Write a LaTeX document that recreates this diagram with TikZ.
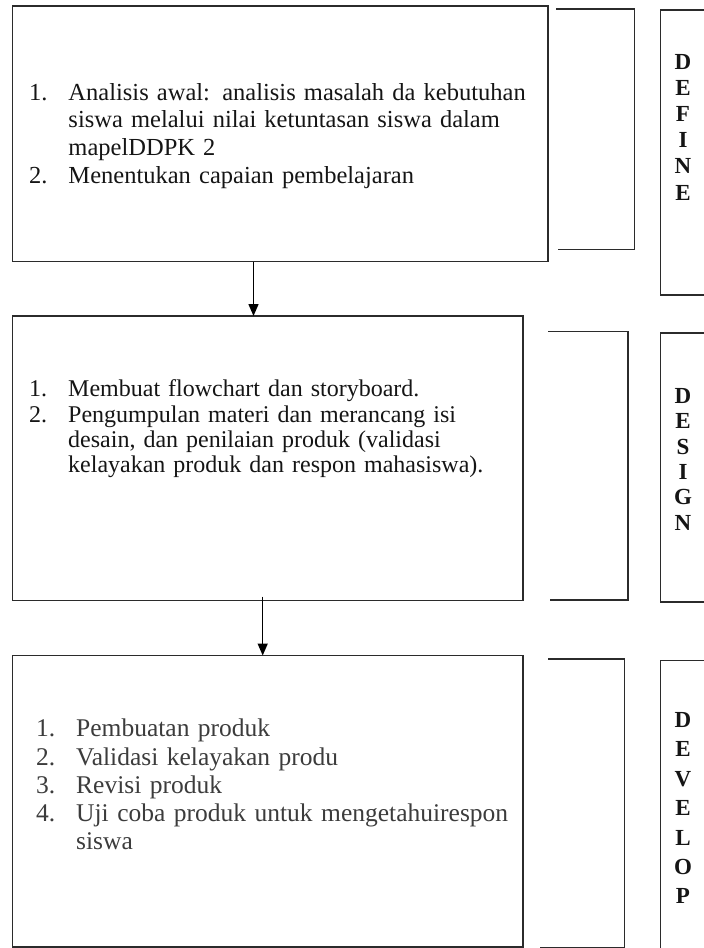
\documentclass[tikz,border=0pt]{standalone}
\usepackage{fontspec}
\setmainfont{Liberation Serif}
\usetikzlibrary{arrows.meta}
\definecolor{linec}{HTML}{2B2B2B}
\definecolor{txtc}{HTML}{151515}
\definecolor{txtgray}{HTML}{3C3C3C}
\tikzset{
  stagebox/.style={draw=linec, line width=1.5pt, rectangle, inner sep=0pt, outer sep=0pt, anchor=north west},
  bracketline/.style={draw=linec, line width=1.5pt},
  flowarrow/.style={draw=black, line width=1.5pt, -{Triangle[width=10pt,length=12pt]}},
  itemtext/.style={anchor=base west, inner sep=0pt, text width=520pt, align=left, text=txtc},
  stagelabel/.style={anchor=base, inner sep=0pt, text width=24pt, align=center, text=txtc}
}
\begin{document}
\begin{tikzpicture}[x=1pt,y=-1pt]
\useasboundingbox (0,0) rectangle (704,948);
\clip (0,0) rectangle (704,948);

% main boxes
\node[stagebox, minimum width=535.5pt, minimum height=255.5pt] (b1) at (12.5,6) {};
\node[stagebox, minimum width=510.5pt, minimum height=284.5pt] (b2) at (12.5,316) {};
\node[stagebox, minimum width=510.5pt, minimum height=291.5pt] (b3) at (12.5,655.5) {};

% side boxes (cut by the right edge)
\node[stagebox, minimum width=80pt, minimum height=285pt] (s1) at (660.7,10) {};
\node[stagebox, minimum width=80pt, minimum height=269pt] (s2) at (660.7,333) {};
\node[stagebox, minimum width=80pt, minimum height=320pt] (s3) at (660.7,660.7) {};

% brackets
\draw[bracketline] (556,9) -- (634.5,9) -- (634.5,249.3) -- (557.7,249.3);
\draw[bracketline] (548,331.7) -- (628,331.7) -- (628,600) -- (550,600);
\draw[bracketline] (548,659) -- (624.5,659) -- (624.5,947.5) -- (540,947.5);

% arrows
\coordinate (ax1) at (253.5,0);
\coordinate (ax2) at (262.7,0);
\draw[flowarrow] (b1.south -| ax1) -- (b2.north -| ax1);
\draw[flowarrow] ([yshift=4pt]b2.south -| ax2) -- (b3.north -| ax2);

% texts
\node[itemtext, font=\fontsize{24.5pt}{27.8pt}\selectfont] (t1) at (29,100) {%
\makebox[39.3pt][l]{1.}\makebox[462pt][s]{Analisis awal: analisis masalah da kebutuhan}\\
\hspace*{39.3pt}\makebox[462pt][s]{siswa melalui nilai ketuntasan siswa dalam}\\
\hspace*{39.3pt}mapelDDPK 2\\
\makebox[39.3pt][l]{2.}\makebox[347pt][s]{Menentukan capaian pembelajaran}};

\node[itemtext, font=\fontsize{24pt}{25.4pt}\selectfont] (t2) at (29,396.7) {%
\makebox[39pt][l]{1.}\makebox[370pt][s]{Membuat flowchart dan storyboard.}\\
\makebox[39pt][l]{2.}\makebox[438pt][s]{Pengumpulan materi dan merancang isi}\\
\hspace*{39pt}\makebox[438pt][s]{desain, dan penilaian produk (validasi}\\
\hspace*{39pt}\makebox[424pt][s]{kelayakan produk dan respon mahasiswa).}};

\node[itemtext, text=txtgray, font=\fontsize{25.5pt}{28.3pt}\selectfont] (t3) at (36,736.7) {%
\makebox[40pt][l]{1.}Pembuatan produk\\
\makebox[40pt][l]{2.}Validasi kelayakan produ\\
\makebox[40pt][l]{3.}Revisi produk\\
\makebox[40pt][l]{4.}\makebox[446pt][s]{Uji coba produk untuk mengetahuirespon}\\
\hspace*{40pt}siswa};

% stage labels
\node[stagelabel, font=\bfseries\fontsize{23pt}{26.1pt}\selectfont] (l1) at (683,69.5) {D\\E\\F\\I\\N\\E};
\node[stagelabel, font=\bfseries\fontsize{23pt}{25.4pt}\selectfont] (l2) at (683,403.3) {D\\E\\S\\I\\G\\N};
\node[stagelabel, font=\bfseries\fontsize{23pt}{29.4pt}\selectfont] (l3) at (683,727.5) {D\\E\\V\\E\\L\\O\\P};
\end{tikzpicture}
\end{document}
